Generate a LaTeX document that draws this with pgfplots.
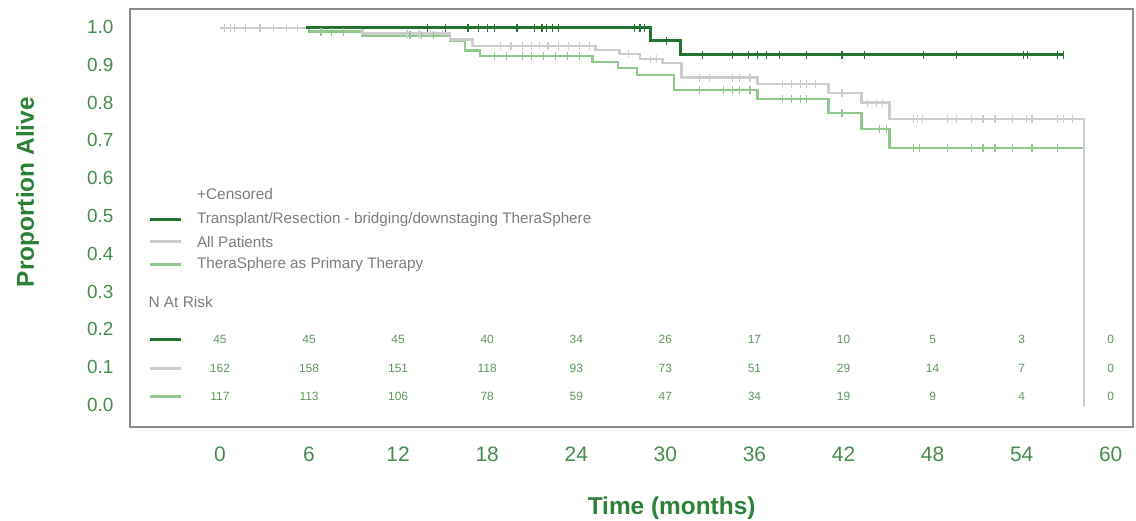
\documentclass[border=0pt]{standalone}
\usepackage{pgfplots}
\pgfplotsset{compat=1.18}
\usepackage{fontspec}
\setmainfont{Liberation Sans}

\definecolor{txgreen}{RGB}{36,115,48}
\definecolor{apgray}{RGB}{205,205,205}
\definecolor{ltgreen}{RGB}{145,200,140}
\definecolor{tickgreen}{RGB}{70,140,80}
\definecolor{labgreen}{RGB}{45,128,55}
\definecolor{framegray}{RGB}{140,140,140}
\definecolor{legtext}{RGB}{125,125,125}
\definecolor{riskgreen}{RGB}{95,150,95}

\pgfplotsset{
  risk row/.style={draw=none, mark=none, nodes near coords, point meta=explicit symbolic,
    nodes near coords style={anchor=center, text=riskgreen, font=\fontsize{12}{14}\selectfont}},
}

\begin{document}
\begin{tikzpicture}
\path[use as bounding box] (-130bp,-94bp) rectangle (1006bp,427bp);
\begin{axis}[
  scale only axis, width=1003bp, height=418bp,
  xmin=-6.06, xmax=61.5, ymin=-0.056, ymax=1.050,
  axis line style={draw=framegray, line width=1.6pt},
  xtick={0,6,12,18,24,30,36,42,48,54,60},
  ytick={0,0.1,0.2,0.3,0.4,0.5,0.6,0.7,0.8,0.9,1.0},
  major tick length=0pt,
  typeset ticklabels with strut,
  /pgf/number format/assume math mode=true,
  tick label style={text=tickgreen},
  y tick label style={font=\fontsize{19}{21}\selectfont, /pgf/number format/.cd, fixed, fixed zerofill, precision=1, /tikz/.cd, xshift=-13bp, yshift=-1.5bp},
  x tick label style={font=\fontsize{21}{23}\selectfont, yshift=-15bp},
  xlabel={Time (months)},
  ylabel={Proportion Alive},
  label style={font=\bfseries\fontsize{24.5}{26}\selectfont, text=labgreen},
  xlabel style={at={(axis description cs:0.540,-0.194)}, anchor=center},
  ylabel style={at={(axis description cs:-0.102,0.562)}, anchor=center},
  clip=false,
]
% TheraSphere as primary therapy
\addplot[const plot, ltgreen, line width=2.4pt] coordinates {
  (0,1.0) (6,0.99) (9.6,0.98) (15.5,0.965) (16.5,0.94) (17.5,0.926)
  (25.1,0.910) (26.8,0.894) (28.1,0.876) (30.6,0.836) (36.2,0.812)
  (41.0,0.775) (43.2,0.733) (45.1,0.683) (58.2,0.683)};
% All patients
\addplot[const plot, apgray, line width=2.6pt] coordinates {
  (0,1.0) (9.6,0.985) (15.5,0.97) (17,0.952) (25.3,0.942) (26.9,0.931)
  (28.3,0.918) (29.8,0.907) (31.1,0.868) (36.2,0.852) (41.0,0.828)
  (43.2,0.802) (45.1,0.759) (58.2,0.759) (58.2,0.0)};
% Transplant / resection after bridging or downstaging
\addplot[const plot, txgreen, line width=3.1pt] coordinates {
  (5.8,1.0) (29.0,0.966) (31.0,0.929) (56.8,0.929)};

% censored observations
\addplot[only marks, mark=|, mark size=4bp, ltgreen, mark options={line width=1.2pt}] coordinates {
  (6.8,0.99) (7.5,0.99) (8.3,0.99) (12.8,0.98) (13.6,0.98) (14.4,0.98)
  (18.5,0.926) (19.3,0.926) (20.4,0.926) (21.0,0.926) (21.8,0.926) (22.6,0.926) (23.4,0.926) (24.2,0.926)
  (32.3,0.836) (33.9,0.836) (34.5,0.836) (35.0,0.836) (35.7,0.836)
  (37.9,0.812) (38.5,0.812) (39.1,0.812) (39.5,0.812)
  (41.9,0.775) (44.4,0.733) (44.9,0.733)
  (46.7,0.683) (47.1,0.683) (49.0,0.683) (50.6,0.683) (51.4,0.683) (52.2,0.683)
  (53.4,0.683) (54.7,0.683) (56.4,0.683)};
\addplot[only marks, mark=|, mark size=4bp, apgray, mark options={line width=1.2pt}] coordinates {
  (0.3,1.0) (0.7,1.0) (1.0,1.0) (1.7,1.0) (2.7,1.0) (3.6,1.0) (4.5,1.0) (5.2,1.0)
  (12.6,0.985) (13.4,0.985) (14.2,0.985) (15.0,0.985)
  (18.9,0.952) (19.6,0.952) (20.4,0.952) (21.0,0.952) (21.5,0.952) (22.1,0.952) (22.8,0.952) (23.5,0.952) (24.2,0.952) (24.9,0.952)
  (27.5,0.931) (29.0,0.918) (29.4,0.918)
  (32.3,0.868) (33.0,0.868) (34.5,0.868) (35.0,0.868) (35.7,0.868)
  (37.9,0.852) (38.5,0.852) (39.1,0.852) (39.5,0.852) (40.1,0.852)
  (41.9,0.828) (43.6,0.802) (44.2,0.802) (44.6,0.802)
  (46.7,0.759) (47.0,0.759) (47.3,0.759) (49.0,0.759) (49.6,0.759) (50.6,0.759) (51.4,0.759)
  (52.2,0.759) (53.4,0.759) (54.3,0.759) (54.7,0.759) (56.4,0.759) (56.8,0.759) (57.4,0.759)};
\addplot[only marks, mark=|, mark size=4bp, txgreen, mark options={line width=1.3pt}] coordinates {
  (14.0,1.0) (15.2,1.0) (16.7,1.0) (17.4,1.0) (18.0,1.0) (18.5,1.0) (20.0,1.0) (21.2,1.0)
  (21.7,1.0) (22.0,1.0) (22.4,1.0) (22.8,1.0) (27.9,1.0) (28.3,1.0) (28.6,1.0)
  (30.1,0.966)
  (32.5,0.929) (34.5,0.929) (35.6,0.929) (36.2,0.929) (36.8,0.929) (37.7,0.929)
  (39.5,0.929) (41.9,0.929) (43.4,0.929) (47.4,0.929) (49.6,0.929)
  (54.1,0.929) (54.4,0.929) (56.4,0.929) (56.8,0.929)};

% number at risk, one row per group
\addplot[risk row] coordinates {
  (0,0.175) [45] (6,0.175) [45] (12,0.175) [45] (18,0.175) [40] (24,0.175) [34]
  (30,0.175) [26] (36,0.175) [17] (42,0.175) [10] (48,0.175) [5] (54,0.175) [3] (60,0.175) [0]};
\addplot[risk row] coordinates {
  (0,0.098) [162] (6,0.098) [158] (12,0.098) [151] (18,0.098) [118] (24,0.098) [93]
  (30,0.098) [73] (36,0.098) [51] (42,0.098) [29] (48,0.098) [14] (54,0.098) [7] (60,0.098) [0]};
\addplot[risk row] coordinates {
  (0,0.024) [117] (6,0.024) [113] (12,0.024) [106] (18,0.024) [78] (24,0.024) [59]
  (30,0.024) [47] (36,0.024) [34] (42,0.024) [19] (48,0.024) [9] (54,0.024) [4] (60,0.024) [0]};

% legend
\node[anchor=west, text=legtext, font=\fontsize{15.5}{17}\selectfont] at (axis cs:-1.78,0.560) {+Censored};
\draw[txgreen, line width=3pt] (axis cs:-4.7,0.492) -- (axis cs:-2.6,0.492);
\draw[apgray, line width=3pt] (axis cs:-4.7,0.434) -- (axis cs:-2.6,0.434);
\draw[ltgreen, line width=3pt] (axis cs:-4.7,0.373) -- (axis cs:-2.6,0.373);
\node[anchor=west, text=legtext, font=\fontsize{15.3}{17}\selectfont] at (axis cs:-1.78,0.492) {Transplant/Resection - bridging/downstaging TheraSphere};
\node[anchor=west, text=legtext, font=\fontsize{15.3}{17}\selectfont] at (axis cs:-1.78,0.434) {All Patients};
\node[anchor=west, text=legtext, font=\fontsize{15.3}{17}\selectfont] at (axis cs:-1.78,0.373) {TheraSphere as Primary Therapy};

\node[anchor=west, text=legtext, font=\fontsize{15.5}{17}\selectfont] at (axis cs:-5.05,0.275) {N At Risk};
\draw[txgreen, line width=3pt] (axis cs:-4.7,0.175) -- (axis cs:-2.6,0.175);
\draw[apgray, line width=3pt] (axis cs:-4.7,0.098) -- (axis cs:-2.6,0.098);
\draw[ltgreen, line width=3pt] (axis cs:-4.7,0.024) -- (axis cs:-2.6,0.024);
\end{axis}
\end{tikzpicture}
\end{document}
